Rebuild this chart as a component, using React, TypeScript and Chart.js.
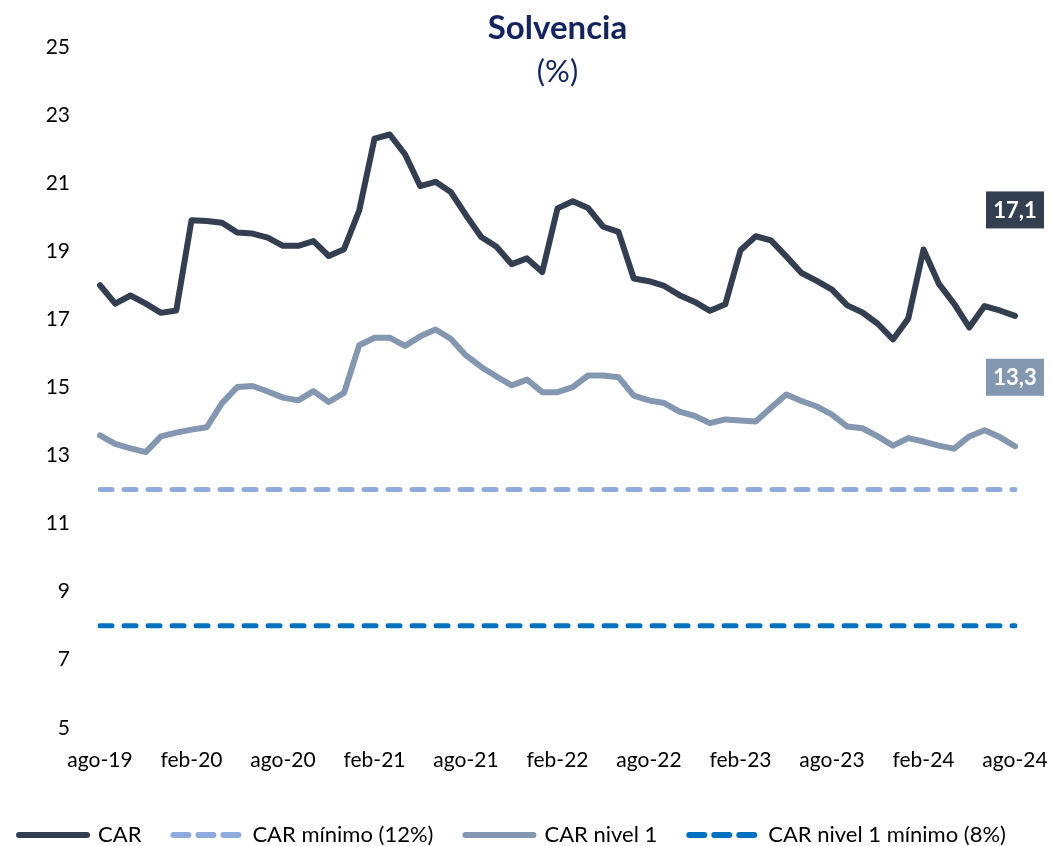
import { useEffect, useRef } from "react";
import { Chart, registerables } from "chart.js";

Chart.register(...registerables);

const MONTH_NAMES = ["ene", "feb", "mar", "abr", "may", "jun", "jul", "ago", "sep", "oct", "nov", "dic"];
const START_YEAR = 19;
const START_MONTH = 7; // ago
const N_MONTHS = 61;
const TICK_EVERY = 6;

const labels: string[] = [];
for (let i = 0; i < N_MONTHS; i++) {
  const m = (START_MONTH + i) % 12;
  const y = START_YEAR + Math.floor((START_MONTH + i) / 12);
  labels.push(`${MONTH_NAMES[m]}-${y}`);
}

const car = [
  18.0, 17.46, 17.7, 17.46, 17.19, 17.26, 19.91, 19.89, 19.84, 19.55,
  19.52, 19.4, 19.16, 19.16, 19.3, 18.86, 19.06, 20.2, 22.31, 22.43,
  21.85, 20.91, 21.04, 20.74, 20.06, 19.42, 19.13, 18.62, 18.79, 18.39,
  20.26, 20.47, 20.27, 19.72, 19.57, 18.2, 18.12, 17.98, 17.71, 17.51,
  17.25, 17.44, 19.03, 19.44, 19.32, 18.85, 18.36, 18.13, 17.87, 17.41,
  17.2, 16.87, 16.41, 17.02, 19.05, 18.05, 17.46, 16.76, 17.39, 17.26,
  17.1,
];

const carNivel1 = [
  13.59, 13.34, 13.21, 13.1, 13.56, 13.67, 13.76, 13.83, 14.54, 15.01,
  15.04, 14.88, 14.7, 14.62, 14.89, 14.57, 14.84, 16.24, 16.46, 16.46,
  16.22, 16.5, 16.7, 16.43, 15.94, 15.6, 15.32, 15.06, 15.23, 14.86,
  14.86, 15.01, 15.35, 15.35, 15.3, 14.76, 14.62, 14.54, 14.29, 14.16,
  13.95, 14.06, 14.03, 14.0, 14.4, 14.79, 14.6, 14.44, 14.2, 13.85,
  13.8, 13.56, 13.29, 13.51, 13.41, 13.29, 13.2, 13.56, 13.74, 13.54,
  13.27,
];

const CAR_MIN = 12;
const CAR_NIVEL1_MIN = 8;

const Y_MIN = 5;
const Y_MAX = 25;
const Y_STEP = 2;

const TITLE = "Solvencia";
const SUBTITLE = "(%)";

const C_CAR = "#333F50";
const C_N1 = "#8497B0";
const C_MIN = "#8FAADC";
const C_N1MIN = "#0070C0";
const C_TITLE = "#13245E";

const FONT = "Lato, 'Open Sans', sans-serif";

const fmt = (v: number) => v.toFixed(1).replace(".", ",");

const overlayPlugin = {
  id: "overlay",
  afterDraw(chart: any) {
    const { ctx, chartArea } = chart;
    ctx.save();
    const cx = (chartArea.left + chartArea.right) / 2;
    ctx.fillStyle = C_TITLE;
    ctx.textAlign = "center";
    ctx.textBaseline = "alphabetic";
    ctx.font = `bold 33px ${FONT}`;
    ctx.fillText(TITLE, cx, 39);
    ctx.font = `31px ${FONT}`;
    ctx.textBaseline = "middle";
    ctx.fillText(SUBTITLE, cx, 72);

    const boxes = [
      { ds: 0, color: C_CAR, dy: -106 },
      { ds: 2, color: C_N1, dy: -69 },
    ];
    boxes.forEach((b) => {
      const meta = chart.getDatasetMeta(b.ds);
      const pts = meta.data;
      const last = pts[pts.length - 1];
      const data = chart.data.datasets[b.ds].data as number[];
      const val = data[data.length - 1];
      const w = 58;
      const h = 37;
      const x = last.x;
      const y = last.y + b.dy;
      ctx.fillStyle = b.color;
      ctx.fillRect(x - w / 2, y - h / 2, w, h);
      ctx.fillStyle = "#FFFFFF";
      ctx.font = `bold 22px ${FONT}`;
      ctx.textAlign = "center";
      ctx.textBaseline = "middle";
      ctx.fillText(fmt(val), x, y + 1);
    });
    ctx.restore();
  },
};

export default function App() {
  const ref = useRef<HTMLCanvasElement | null>(null);

  useEffect(() => {
    if (!ref.current) return;
    Chart.defaults.font.family = FONT;
    Chart.defaults.color = "#000";
    const chart = new Chart(ref.current, {
      type: "line",
      data: {
        labels,
        datasets: [
          {
            label: "CAR",
            data: car,
            borderColor: C_CAR,
            backgroundColor: C_CAR,
            borderWidth: 6,
            pointRadius: 0,
            borderCapStyle: "round",
            borderJoinStyle: "round",
            tension: 0,
          },
          {
            label: "CAR mínimo (12%)",
            data: labels.map(() => CAR_MIN),
            borderColor: C_MIN,
            backgroundColor: C_MIN,
            borderWidth: 5,
            borderDash: [12, 12],
            pointRadius: 0,
            borderCapStyle: "round",
          },
          {
            label: "CAR nivel 1",
            data: carNivel1,
            borderColor: C_N1,
            backgroundColor: C_N1,
            borderWidth: 6,
            pointRadius: 0,
            borderCapStyle: "round",
            borderJoinStyle: "round",
            tension: 0,
          },
          {
            label: "CAR nivel 1 mínimo (8%)",
            data: labels.map(() => CAR_NIVEL1_MIN),
            borderColor: C_N1MIN,
            backgroundColor: C_N1MIN,
            borderWidth: 5,
            borderDash: [12, 12],
            pointRadius: 0,
            borderCapStyle: "round",
          },
        ],
      },
      options: {
        animation: false,
        responsive: true,
        maintainAspectRatio: false,
        layout: { padding: { top: 47, left: -16, right: 10, bottom: -10 } },
        plugins: {
          title: { display: false },
          tooltip: { enabled: false },
          legend: {
            display: true,
            position: "bottom",
            labels: {
              usePointStyle: true,
              pointStyle: "line",
              pointStyleWidth: 68,
              boxHeight: 22,
              padding: 32,
              color: "#000",
              font: { size: 22, family: FONT },
              generateLabels: (ch: any) =>
                ch.data.datasets.map((ds: any, i: number) => ({
                  text: ds.label,
                  datasetIndex: i,
                  fillStyle: ds.borderColor,
                  strokeStyle: ds.borderColor,
                  lineWidth: 6,
                  lineDash: ds.borderDash ? [15, 10] : [],
                  lineCap: "round",
                  pointStyle: "line",
                  hidden: false,
                  fontColor: "#000",
                })),
            },
          },
        },
        scales: {
          x: {
            type: "category",
            grid: { display: false, drawTicks: false },
            border: { display: false },
            ticks: {
              autoSkip: false,
              maxRotation: 0,
              minRotation: 0,
              padding: 20,
              color: "#000",
              font: { size: 21, family: FONT },
              callback: (_v: any, i: number) => (i % TICK_EVERY === 0 ? labels[i] : ""),
            },
            afterFit: (s: any) => {
              s.paddingLeft = 0;
              s.paddingRight = 36;
              s.height -= 1;
            },
          },
          y: {
            min: Y_MIN,
            max: Y_MAX,
            grid: { display: false, drawTicks: false },
            border: { display: false },
            ticks: {
              stepSize: Y_STEP,
              padding: 30,
              color: "#000",
              font: { size: 21, family: FONT },
            },
            afterFit: (s: any) => {
              s.width = 116;
            },
          },
        },
      },
      plugins: [overlayPlugin],
    });
    return () => chart.destroy();
  }, []);

  return (
    <div style={{ position: "absolute", left: 0, top: 0, width: 1051, height: 846, background: "#fff" }}>
      <canvas ref={ref} />
    </div>
  );
}
